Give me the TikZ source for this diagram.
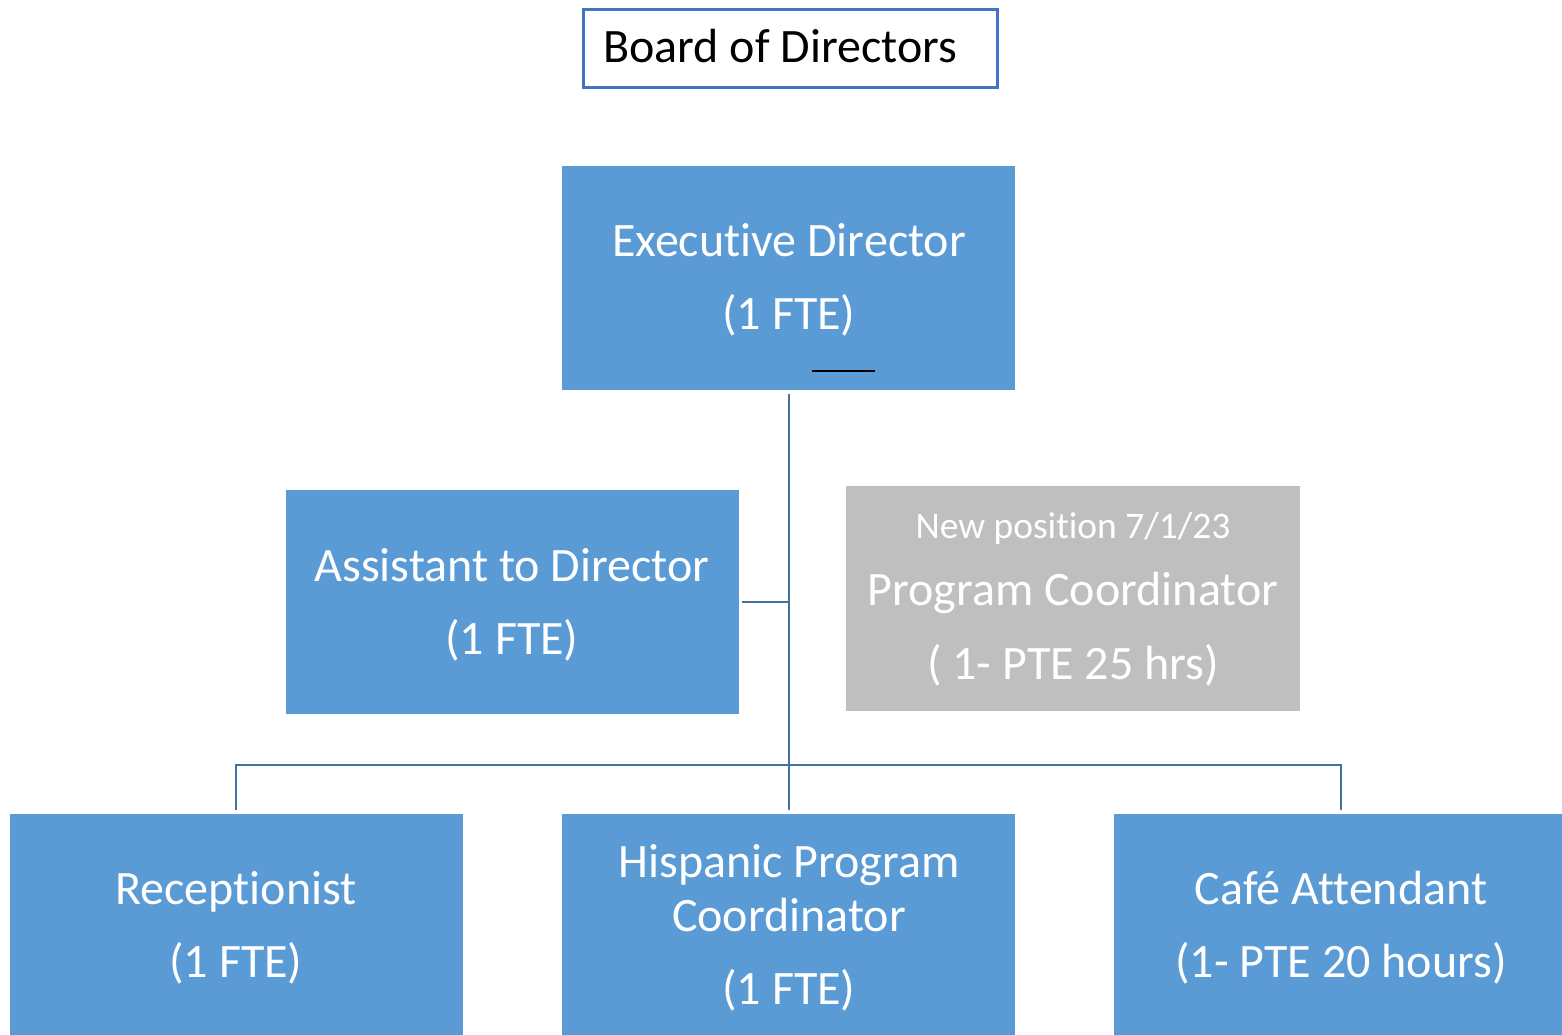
\documentclass[tikz,border=0pt]{standalone}
\usepackage{fontspec}
\setmainfont[Ligatures={NoCommon}]{Carlito}
\definecolor{boxblue}{HTML}{5B9BD5}
\definecolor{boxgray}{HTML}{BFBFBF}
\definecolor{linkblue}{HTML}{41719C}
\definecolor{borderblue}{HTML}{4472C4}
\begin{document}
\begin{tikzpicture}[x=1pt,y=-1pt,
  bluebox/.style={fill=boxblue,draw=none,inner sep=0pt,anchor=north west},
  graybox/.style={fill=boxgray,draw=none,inner sep=0pt,anchor=north west},
  lbl/.style={text=white,anchor=base,inner sep=0pt,font=\fontsize{48}{57}\selectfont},
  smalllbl/.style={text=white,anchor=base,inner sep=0pt,font=\fontsize{37.5}{45}\selectfont},
  link/.style={draw=linkblue,line width=2.8pt}]
\useasboundingbox (0,0) rectangle (1562,1035);
% Board
\node[draw=borderblue,line width=3pt,fill=white,anchor=north west,minimum width=414pt,minimum height=78pt,inner sep=0pt] (board) at (582,8) {};
\node[anchor=base west,inner sep=0pt,font=\fontsize{48}{57}\selectfont] (boardtxt) at (603,63) {Board of Directors};
% Boxes
\node[bluebox,minimum width=453pt,minimum height=224pt] (exec) at (562,166) {};
\node[bluebox,minimum width=453pt,minimum height=224pt] (asst) at (286,490) {};
\node[graybox,minimum width=454pt,minimum height=225pt] (newpc) at (846,486) {};
\node[bluebox,minimum width=453pt,minimum height=230pt] (recep) at (10,814) {};
\node[bluebox,minimum width=453pt,minimum height=230pt] (hisp) at (562,814) {};
\node[bluebox,minimum width=460pt,minimum height=230pt] (cafe) at (1114,814) {};
% Texts
\node[lbl] (exec1) at (789,256) {Executive Director};
\node[lbl] (exec2) at (789,329) {(1 FTE)};
\coordinate (ul1) at (812,371);
\coordinate (ul2) at (875,371);
\draw[black,line width=1.2pt] (ul1) -- (ul2);
\node[lbl] (asst1) at (512,581) {Assistant to Director};
\node[lbl] (asst2) at (512,654) {(1 FTE)};
\node[smalllbl] (new1) at (1073,538) {New position 7/1/23};
\node[lbl] (new2) at (1073,605) {Program Coordinator};
\node[lbl] (new3) at (1073,679) {( 1- PTE 25 hrs)};
\node[lbl] (recep1) at (236,904) {Receptionist};
\node[lbl] (recep2) at (236,977) {(1 FTE)};
\node[lbl] (hisp1) at (789,877) {Hispanic Program};
\node[lbl] (hisp2) at (789,931) {Coordinator};
\node[lbl] (hisp3) at (789,1004) {(1 FTE)};
\node[lbl] (cafe1) at (1341,904) {Café Attendant};
\node[lbl] (cafe2) at (1341,977) {(1- PTE 20 hours)};
% Connectors
\coordinate (exectop) at (789,394);
\coordinate (asstj) at (789,602);
\coordinate (asstend) at (742,602);
\coordinate (hisptop) at (789,810);
\coordinate (busl) at (236,765);
\coordinate (busr) at (1341,765);
\coordinate (receptop) at (236,810);
\coordinate (cafetop) at (1341,810);
\draw[link] (exectop) -- (hisptop);
\draw[link] (asstend) -- (asstj);
\draw[link] (receptop) -- (busl) -- (busr) -- (cafetop);
\end{tikzpicture}
\end{document}
